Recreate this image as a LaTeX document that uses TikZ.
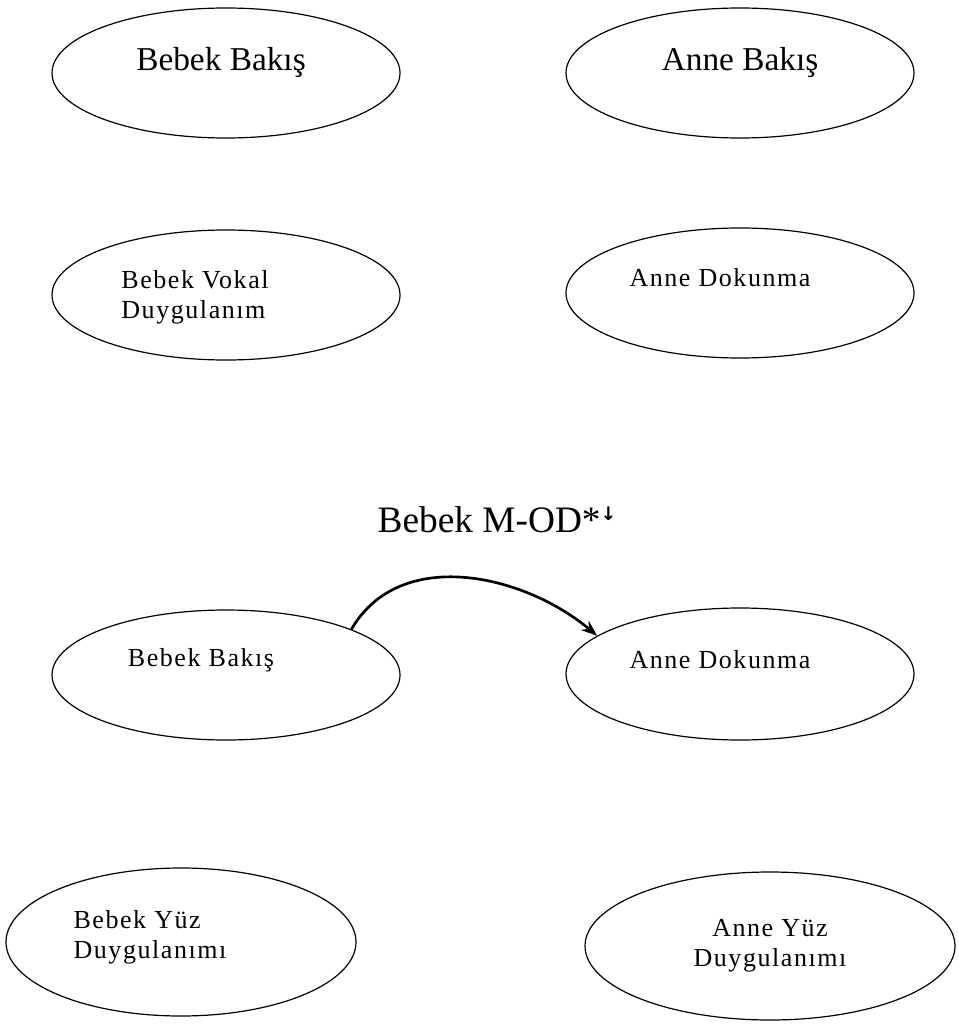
\documentclass[tikz,border=0pt]{standalone}
\usepackage{fontspec}
\setmainfont{Liberation Serif}
\newfontfamily\spacedfont[LetterSpace=6]{Liberation Serif}
\newfontfamily\symfont{DejaVu Sans}
\usepackage{tikz}
\usetikzlibrary{shapes.geometric,arrows.meta}

\tikzset{
  oval/.style={draw, ellipse, line width=0.9pt, inner sep=0pt},
  biglabel/.style={inner sep=0.75pt, font=\fontsize{25}{29}\selectfont},
  smalllabel/.style={inner sep=0.75pt, font=\spacedfont\fontsize{19.5}{22.5}\selectfont},
}

\begin{document}
\begin{tikzpicture}[x=0.75pt,y=0.75pt,yscale=-1,xscale=1]
\useasboundingbox (0,0) rectangle (958,1024);

%Ellipses
\node [oval, minimum width=261pt, minimum height=97.5pt] (bebekbakis) at (226,73) {};
\node [oval, minimum width=261pt, minimum height=97.5pt] (annebakis) at (740,73) {};
\node [oval, minimum width=261pt, minimum height=97.5pt] (bebekvokal) at (226,295) {};
\node [oval, minimum width=261pt, minimum height=97.5pt] (annedokunma) at (740,293) {};
\node [oval, minimum width=261pt, minimum height=97.5pt] (bebekbakis2) at (226,675) {};
\node [oval, minimum width=261pt, minimum height=99pt] (annedokunma2) at (740,674) {};
\node [oval, minimum width=262.5pt, minimum height=111pt] (bebekyuz) at (181,942) {};
\node [oval, minimum width=277.5pt, minimum height=111pt] (anneyuz) at (770,946) {};

% Text Node
\node [biglabel] (t1) at (221,62) {Bebek Bakış};
% Text Node
\node [biglabel] (t2) at (740,62) {Anne Bakış};
% Text Node
\node [smalllabel, align=left] (t3) at (195,297) {Bebek Vokal\\Duygulanım};
% Text Node
\node [smalllabel] (t4) at (720,278) {Anne Dokunma};
% Text Node
\node [inner sep=0.75pt, font=\fontsize{28}{32}\selectfont] (title) at (497,520) {Bebek M-OD*\raisebox{9pt}{\symfont\bfseries\fontsize{14}{14}\selectfont ↓}};
% Text Node
\node [smalllabel] (t6) at (201,660) {Bebek Bakış};
% Text Node
\node [smalllabel] (t7) at (720,660) {Anne Dokunma};
% Text Node
\node [smalllabel, align=left] (t8) at (150,937) {Bebek Yüz\\Duygulanımı};
% Text Node
\node [smalllabel, align=center] (t9) at (770,946) {Anne Yüz\\Duygulanımı};

%Curved arrow
\draw [line width=2pt, -{Stealth[length=12pt,width=9pt]}] (bebekbakis2.20) to [out=-60, in=-140] (annedokunma2.165);

\end{tikzpicture}
\end{document}
